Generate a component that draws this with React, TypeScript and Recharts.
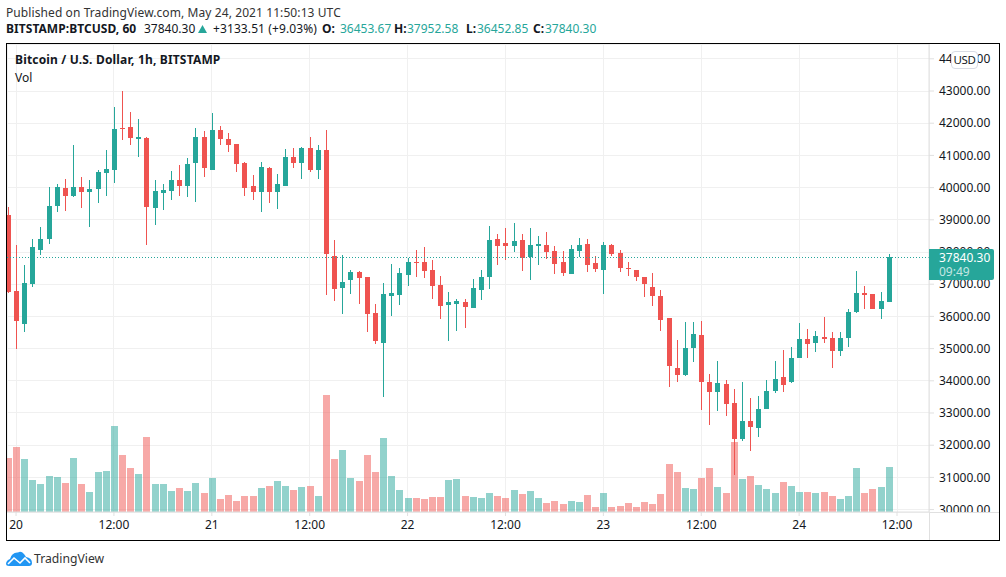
import React from 'react';
import { ComposedChart, Bar, XAxis, YAxis, CartesianGrid, ReferenceLine } from 'recharts';

const opens = [39149,36789,35764,37006,38062,38404,39429,39988,39739,40019,39863,39957,40453,40547,41851,41882,41510,41541,39366,39832,39894,40236,40050,40764,41572,40547,41789,41510,41354,40764,40050,39863,40609,39863,40050,40950,40764,41230,40546,41168,37875,36881,37130,37378,37223,36105,35173,36633,36664,37285,37689,37689,37441,36975,36354,36385,36447,36260,36819,37223,38403,38279,38186,38372,37844,38186,38217,38031,37689,37316,38031,38248,37658,37440,38217,37968,37503,37440,37223,36912,36633,35950,34397,34179,35018,35422,33962,33651,33900,33309,32191,32750,32533,33123,33682,34117,33962,34707,35297,35173,35359,35328,34924,35328,36136,36726,36695,36229,36453.67];
const highs = [39406,38217,37596,38404,38776,40019,40112,40267,41323,40329,40236,40547,41168,42503,43000,42348,42131,41572,40236,40112,40516,40702,40919,41851,41758,42317,41913,41696,41354,40795,40391,40795,40640,40422,41199,41230,41261,41571,41323,41789,38372,37906,37441,37410,37223,36385,37037,37627,37503,37813,38062,38155,37751,37254,36757,36540,36540,37161,37441,38807,38559,38745,38900,38559,38745,38496,38621,38186,38031,38217,38434,38403,37875,38310,38248,38062,37689,37440,37223,37347,36819,35950,35266,35825,35825,35856,34210,34614,34024,33744,33962,33465,33527,34024,34614,34955,35049,35794,35608,35546,35980,35515,35515,36229,37409,36943,36695,36757,37952.58];
const lows = [36735,34987,35515,36913,37907,38248,39242,39273,39708,39366,38776,39522,39739,40143,41478,41323,40950,38217,38838,39304,39615,39739,39708,39553,40329,40547,41323,41106,40485,39739,39615,39242,39522,39335,40050,40609,40267,40484,40267,36664,36478,36074,36695,36385,35515,35142,33496,36012,36354,36944,37223,37192,36540,35919,35235,35546,35639,36260,36509,36850,37596,37751,38000,37409,37130,37596,37782,37316,37254,37316,37844,37378,37378,36695,37875,37378,37254,37099,36602,36322,35546,33806,33962,34148,34583,33092,32626,33061,32906,31073,32129,31819,32253,33123,33620,33651,33931,34707,34707,34893,35173,34396,34769,35049,36105,36229,36229,35918,36452.85];
const closes = [36757,35857,37037,38155,38404,39429,40019,39739,40019,39863,39957,40485,40578,41820,41820,41541,41572,39398,39894,39926,40236,40050,40733,41572,40609,41789,41510,41323,40733,39988,39863,40640,39863,40112,40950,40764,41230,40546,41168,37937,36850,37068,37378,37192,36074,35235,36695,36726,37347,37689,37658,37410,36944,36322,36447,36478,36291,36881,37223,38372,38186,38186,38341,37813,38217,38248,38000,37627,37347,38093,38217,37596,37472,38217,37937,37503,37472,37223,37006,36633,35888,34459,34179,35018,35453,33962,33651,33931,33279,32191,32750,32564,33123,33682,34055,33868,34707,35297,35142,35390,35297,34924,35328,36136,36726,36664,36229,36477,37840.30];
// Volume bars, on the hidden volume axis
const volumes = [540,650,530,320,280,360,350,290,540,280,200,400,410,860,570,440,380,750,280,280,210,240,210,290,190,340,130,170,110,160,160,240,260,310,260,220,250,260,160,1170,530,620,340,310,570,400,740,360,220,140,140,130,150,150,320,330,160,150,140,190,160,140,220,180,210,140,90,110,80,110,100,170,50,190,50,60,90,50,100,80,180,480,400,240,230,340,440,250,190,700,330,360,270,230,190,300,260,200,200,190,200,160,130,160,440,190,230,250,450];

const firstHour = -1;
const priceTicks = [30000,31000,32000,33000,34000,35000,36000,37000,38000,39000,40000,41000,42000,43000,44000];
const timeTicks = [0,12,24,36,48,60,72,84,96,108];
const firstDay = 20;
const lastClose = 37840.30;

const GREEN = '#26a69a';
const RED = '#ef5350';
const FONT = '"Noto Sans", sans-serif';
const PLOT_LEFT = 7;

const rows = opens.map((o, i) => ({
  hour: firstHour + i,
  open: o,
  high: highs[i],
  low: lows[i],
  close: closes[i],
  volume: volumes[i],
}));

const Candle = (props: any) => {
  const { x, y, width, height, payload } = props;
  const cx = Math.floor(x + width / 2);
  const unit = height / (payload.high - payload.low);
  const top = Math.max(payload.open, payload.close);
  const bot = Math.min(payload.open, payload.close);
  const bodyY = Math.round(y + (payload.high - top) * unit);
  const bodyH = Math.max(1, Math.round((top - bot) * unit));
  const color = payload.close >= payload.open ? GREEN : RED;
  const left = Math.max(cx - 2, PLOT_LEFT);
  return (
    <g>
      <rect x={cx} y={Math.round(y)} width={1} height={Math.max(1, Math.round(height))} fill={color} />
      <rect x={left} y={bodyY} width={cx + 3 - left} height={bodyH} fill={color} />
    </g>
  );
};

const VolumeBar = (props: any) => {
  const { x, y, width, height, payload } = props;
  const cx = Math.floor(x + width / 2);
  const left = Math.max(cx - 3, PLOT_LEFT);
  return (
    <rect
      x={left}
      y={Math.round(y)}
      width={cx + 4 - left}
      height={Math.round(height)}
      fill={payload.close >= payload.open ? GREEN : RED}
      fillOpacity={0.5}
    />
  );
};

const xDomain: [number, number] = [-1.109, 111.92];
const fmtTime = (h: number) => (h % 24 === 0 ? String(firstDay + h / 24) : '12:00');

const Txt = ({ x, y, children, color = '#131722', bold = false, size = 12, spacing = 0 }: any) => (
  <div
    style={{
      position: 'absolute',
      left: x,
      top: y,
      fontFamily: FONT,
      fontSize: size,
      lineHeight: '16px',
      letterSpacing: spacing,
      color,
      fontWeight: bold ? 700 : 400,
      whiteSpace: 'nowrap',
    }}
  >
    {children}
  </div>
);

export default function App() {
  return (
    <div style={{ position: 'absolute', left: 0, top: 0, width: 1006, height: 577, background: '#fff', overflow: 'hidden' }}>
      <ComposedChart
        width={1006}
        height={577}
        data={rows}
        margin={{ left: 7, top: 44, right: 0, bottom: 0 }}
        barGap={0}
      >
        <CartesianGrid stroke="#f0f0f0" xAxisId="t" yAxisId="price" shapeRendering="crispEdges" />
        <XAxis
          xAxisId="t"
          dataKey="hour"
          type="number"
          domain={xDomain}
          ticks={timeTicks}
          interval={0}
          tickFormatter={fmtTime}
          height={65}
          tickSize={4}
          tickMargin={4}
          tick={{ fill: '#131722', fontSize: 12, fontFamily: FONT }}
          tickLine={{ stroke: '#e0e0e0' }}
          axisLine={{ stroke: '#e0e0e0' }}
        />
        <XAxis xAxisId="v" dataKey="hour" type="number" domain={xDomain} hide height={0} />
        <YAxis
          yAxisId="price"
          orientation="right"
          domain={[29925, 44460]}
          ticks={priceTicks}
          interval={0}
          width={77}
          tickFormatter={(v: number) => v.toFixed(2)}
          tickSize={5}
          tickMargin={5}
          tick={{ fill: '#131722', fontSize: 12, fontFamily: FONT }}
          tickLine={{ stroke: '#e0e0e0' }}
          axisLine={{ stroke: '#e0e0e0' }}
        />
        <YAxis yAxisId="vol" domain={[0, 4680]} hide width={0} />
        <Bar xAxisId="v" yAxisId="vol" dataKey="volume" barSize={7} shape={VolumeBar} isAnimationActive={false} />
        <Bar
          xAxisId="t"
          yAxisId="price"
          dataKey={(d: any) => [d.low, d.high]}
          barSize={5}
          shape={Candle}
          isAnimationActive={false}
        />
        <ReferenceLine xAxisId="t" yAxisId="price" y={lastClose} stroke={GREEN} strokeDasharray="1 2" shapeRendering="crispEdges" />
      </ComposedChart>

      {/* clip the price label at the time axis, extend axis lines */}
      <div style={{ position: 'absolute', left: 930, top: 513, width: 69, height: 9, background: '#fff' }} />
      <div style={{ position: 'absolute', left: 929, top: 512, width: 70, height: 1, background: '#e0e0e0' }} />
      <div style={{ position: 'absolute', left: 929, top: 512, width: 1, height: 28, background: '#e0e0e0' }} />

      {/* frame */}
      <div style={{ position: 'absolute', left: 6, top: 43, width: 994, height: 498, boxSizing: 'border-box', border: '1px solid #000' }} />

      {/* header */}
      <Txt x={6} y={5} color="#333" spacing={0.09}>Published on TradingView.com, May 24, 2021 11:50:13 UTC</Txt>
      <Txt x={6} y={21} bold spacing={0.05}>BITSTAMP:BTCUSD, 60</Txt>
      <Txt x={144} y={21}>37840.30</Txt>
      <svg style={{ position: 'absolute', left: 197, top: 24 }} width={12} height={10}>
        <polygon points="1,9 5.5,1 10,9" fill={GREEN} />
      </svg>
      <Txt x={213} y={21} spacing={0.1}>+3133.51 (+9.03%)</Txt>
      <Txt x={322} y={21} bold>O:</Txt>
      <Txt x={340} y={21} color={GREEN}>36453.67</Txt>
      <Txt x={394} y={21} bold>H:</Txt>
      <Txt x={407} y={21} color={GREEN}>37952.58</Txt>
      <Txt x={466} y={21} bold>L:</Txt>
      <Txt x={477} y={21} color={GREEN}>36452.85</Txt>
      <Txt x={533} y={21} bold>C:</Txt>
      <Txt x={545} y={21} color={GREEN}>37840.30</Txt>

      <Txt x={15} y={52} bold spacing={0.17}>Bitcoin / U.S. Dollar, 1h, BITSTAMP</Txt>
      <Txt x={15} y={70}>Vol</Txt>

      {/* USD badge */}
      <div
        style={{
          position: 'absolute', left: 951, top: 51, width: 27, height: 18, boxSizing: 'border-box',
          border: '1px solid #d8dbe4', borderRadius: 4, background: '#fff', fontFamily: FONT, fontSize: 11.5,
          lineHeight: '16px', textAlign: 'center', color: '#131722', letterSpacing: -0.3, overflow: 'hidden',
        }}
      >
        USD
      </div>

      {/* last price tag */}
      <div style={{ position: 'absolute', left: 929, top: 249, width: 65, height: 31, background: GREEN, borderRadius: '0 2px 2px 0' }} />
      <Txt x={939} y={250} color="#fff">37840.30</Txt>
      <Txt x={939} y={264} color="#c4e7e3">09:49</Txt>

      {/* logo */}
      <svg style={{ position: 'absolute', left: 6, top: 551 }} width={26} height={15} viewBox="0 0 26 15">
        <path d="M0 12.5 Q0.5 9 4 8 Q6 1 12 1.5 Q15 -0.5 18 3 Q19.5 5 20 6 Q26 7 26 12 Q26 15 23 15 L3 15 Q0 15 0 12.5z" fill="#2196f3" />
        <polyline points="2,13 8,7 14,12 19,7 24,12" fill="none" stroke="#fff" strokeWidth={1.6} />
      </svg>
      <Txt x={34} y={551} color="#333" size={12.2}>TradingView</Txt>
    </div>
  );
}
